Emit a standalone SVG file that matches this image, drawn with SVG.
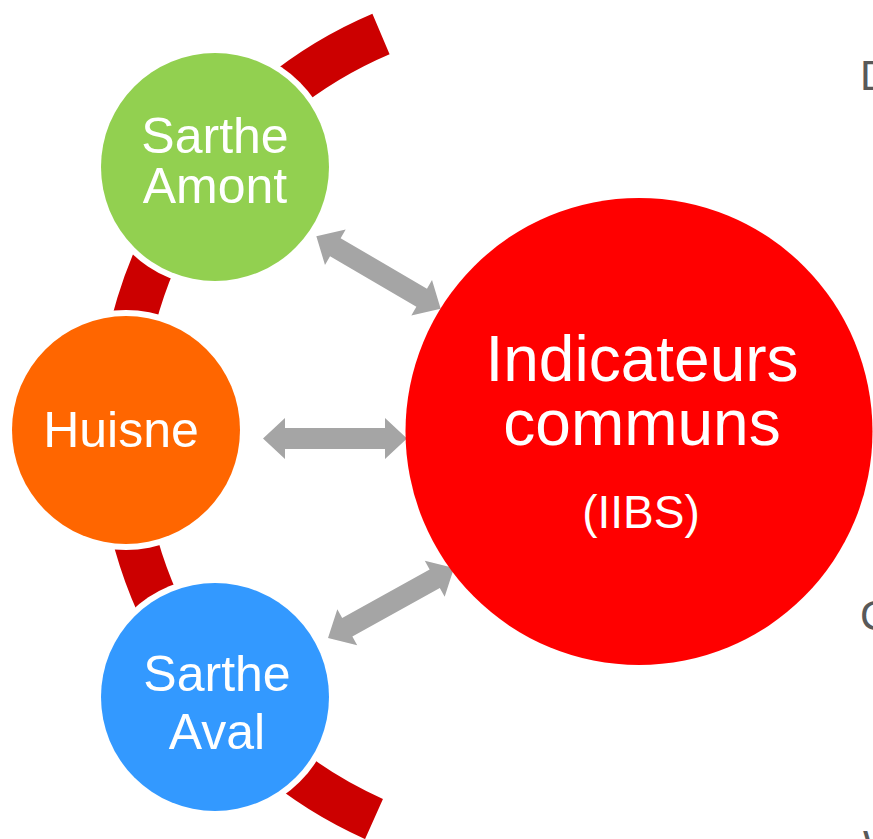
<svg xmlns="http://www.w3.org/2000/svg" width="873" height="839" viewBox="0 0 873 839">
<defs>
<style>
.lbl{font-family:"Liberation Sans",Arial,sans-serif;fill:#FFFFFF;text-anchor:middle}
.n{font-size:50px}
.big{font-size:64px}
.sm{font-size:46px}
.edge{font-family:"Liberation Sans",Arial,sans-serif;font-size:42px;fill:#595959}
.ring{fill:#FFFFFF}
.arr{fill:#A5A5A5}
</style>
<path id="dbl" d="M -72 0 L -50 -20.5 L -50 -10.5 L 50 -10.5 L 50 -20.5 L 72 0 L 50 20.5 L 50 10.5 L -50 10.5 L -50 20.5 Z"/>
</defs>
<rect width="873" height="839" fill="#FFFFFF"/>
<g id="arc">
<path d="M 381 34 A 428 428 0 0 0 374 819" fill="none" stroke="#CC0000" stroke-width="44"/>
</g>
<g id="connectors">
<use href="#dbl" class="arr" transform="translate(378.5 272.5) rotate(30.3)"/>
<use href="#dbl" class="arr" transform="translate(335 438.5)"/>
<use href="#dbl" class="arr" transform="translate(391 603) rotate(-29)"/>
</g>
<g id="sarthe-amont">
<circle class="ring" cx="215" cy="167" r="120"/>
<circle cx="215" cy="167" r="114" fill="#92D050"/>
<text class="lbl n" x="215" y="153">Sarthe</text>
<text class="lbl n" x="215" y="203">Amont</text>
</g>
<g id="huisne">
<circle class="ring" cx="126" cy="430" r="120"/>
<circle cx="126" cy="430" r="114" fill="#FF6600"/>
<text class="lbl n" x="121" y="447">Huisne</text>
</g>
<g id="sarthe-aval">
<circle class="ring" cx="215" cy="697" r="120"/>
<circle cx="215" cy="697" r="114" fill="#3399FF"/>
<text class="lbl n" x="217" y="691">Sarthe</text>
<text class="lbl n" x="217" y="749">Aval</text>
</g>
<g id="indicateurs">
<circle cx="639" cy="431.5" r="233.5" fill="#FF0000"/>
<text class="lbl big" x="642" y="381">Indicateurs</text>
<text class="lbl big" x="642" y="445">communs</text>
<text class="lbl sm" x="641" y="528">(IIBS)</text>
</g>
<g id="edge-text">
<text class="edge" x="860" y="90">D</text>
<text class="edge" x="860" y="630">C</text>
<text class="edge" x="863" y="860">W</text>
</g>
</svg>
